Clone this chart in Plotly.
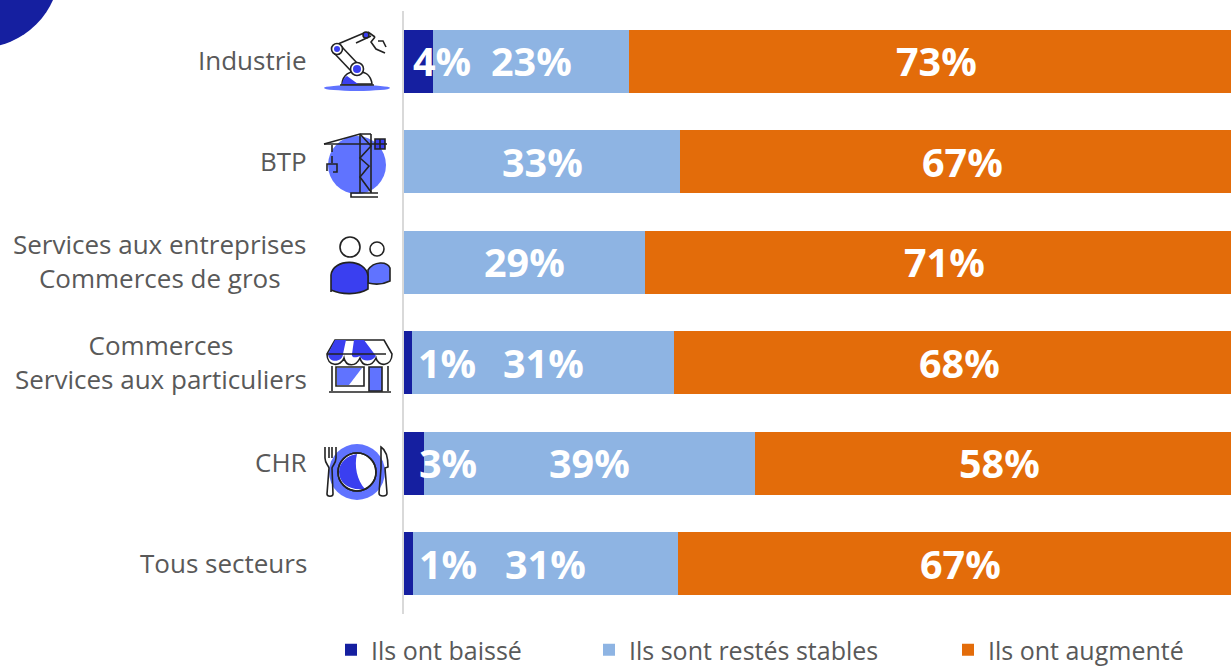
import plotly.graph_objects as go

categories = ["Industrie", "BTP", "Services aux entreprises<br>Commerces de gros",
              "Commerces<br>Services aux particuliers", "CHR", "Tous secteurs"]
baisse = [3.5, 0, 0, 0.9, 2.4, 1.1]
stable = [23.3, 32.9, 28.7, 31.3, 39.4, 31.5]
hausse = [73.2, 67.1, 71.3, 67.8, 58.2, 67.4]
baisse_labels = ["4%", "", "", "1%", "3%", "1%"]
stable_labels = ["23%", "33%", "29%", "31%", "39%", "31%"]
hausse_labels = ["73%", "67%", "71%", "68%", "58%", "67%"]
series_names = ["Ils ont baissé", "Ils sont restés stables", "Ils ont augmenté"]

W, H = 1231, 666
L, T, B = 404, 11, 614
AXIS_FULL = 840.0
C_DARK, C_LIGHT, C_ORANGE = "#151FA0", "#8EB4E3", "#E36C0A"
BLUE, BLUE2, INK = "#3A3FF0", "#6073FF", "#222222"
TXT = "#595959"
LABEL_FONT = "Open Sans"

def px(x): return (x - L) / (W - L)
def py(y): return 1 - (y - T) / (B - T)

def path(d, fill=None, line=INK, width=1.6):
    out, toks = [], d.replace(",", " ").split()
    i = 0
    while i < len(toks):
        t = toks[i]
        if t.isalpha():
            out.append(t); i += 1
        else:
            out.append(f"{px(float(t)):.5f},{py(float(toks[i+1])):.5f}"); i += 2
    return dict(type="path", xref="paper", yref="paper", path=" ".join(out),
                fillcolor=fill or "rgba(0,0,0,0)",
                line=dict(color=line if line else "rgba(0,0,0,0)", width=width if line else 0), layer="above")

def circ(cx, cy, r, fill=None, line=INK, width=1.6, ry=None):
    ry = ry or r
    return dict(type="circle", xref="paper", yref="paper", x0=px(cx-r), x1=px(cx+r), y0=py(cy+ry), y1=py(cy-ry),
                fillcolor=fill or "rgba(0,0,0,0)",
                line=dict(color=line if line else "rgba(0,0,0,0)", width=width if line else 0), layer="above")

shapes = [
    # corner disc
    circ(-20, -32, 79.7, fill=C_DARK, line=None),
    # robot
    circ(357, 88, 33, fill=BLUE2, line=None, ry=3),
    path("M 342 84 C 343 74 350 71 357 72 C 366 71 371 76 372 84 Z", fill="#FFFFFF"),
    path("M 342 84 C 343 79 345 77 347 76 L 358 84 Z", fill=BLUE, line=None),
    path("M 340 85 L 374 85"),
    path("M 334 53 L 352 72"), path("M 341 46 L 358 64"),
    path("M 338 44 L 364 33"), path("M 356 43 L 371 36"),
    path("M 368 32 L 375 37"), path("M 375 37 L 371 42 L 376 49 L 385 53"), path("M 378 41 L 383 41 L 386 47"),
    circ(357, 69, 6.5, fill="#FFFFFF"), circ(357, 69, 4, fill=BLUE, line=None),
    circ(337, 49, 5.5, fill="#FFFFFF"), circ(337, 49, 3, fill=BLUE, line=None),
    circ(366, 35, 3, fill=BLUE),
    # crane
    circ(357, 165, 29, fill=BLUE2, line=None),
    path("M 324 144 L 387 144"), path("M 324 144 L 360 134 L 371 134"),
    path("M 360 134 L 360 193"), path("M 371 134 L 371 193"),
    path("M 360 134 L 371 146 L 360 158 L 369 166 L 360 177 L 371 192"),
    path("M 332 145 L 332 152"), path("M 332 156 L 332 163"),
    path("M 327 171 L 327 164 L 337 164 L 337 172 L 333 172"),
    path("M 375 139 L 385 139 L 385 149 L 375 149 Z M 380 139 L 380 149 M 375 144 L 385 144", fill=BLUE),
    path("M 378 193 L 351 193 L 351 197 L 378 197"),
    # people
    circ(350, 247, 10), circ(377, 249, 7),
    path("M 368 270 C 374 261 387 261 390 268 L 390 281 C 384 284 376 285 368 283 Z", fill=BLUE2),
    path("M 331 292 L 331 275 C 333 258 366 258 368 276 L 368 289 C 358 295 342 295 331 290 Z", fill=BLUE),
    # shop
    path("M 335 340 L 384 340 L 392 354 C 392 367 378 367 376 358 C 372 367 362 367 360 358 C 356 367 346 367 344 358 C 341 367 327 367 327 354 Z", fill="#FFFFFF"),
    path("M 335 340 L 346 340 L 343 354 C 343 362 329 364 328 354 Z", fill=BLUE, line=None),
    path("M 354 340 L 364 340 L 376 356 C 372 362 362 362 360 356 C 356 358 351 358 352 354 Z", fill=BLUE, line=None),
    path("M 327 354 L 386 354"),
    path("M 332 366 L 332 391"), path("M 388 366 L 388 391"), path("M 329 392 L 391 392"),
    path("M 336 367 L 364 367 L 364 386 L 336 386 Z", fill="#FFFFFF"),
    path("M 337 368 L 362 368 L 349 385 L 337 385 Z", fill=BLUE2, line=None),
    path("M 369 367 L 382 367 L 382 391 L 369 391 Z", fill=BLUE2),
    # plate
    circ(357, 472, 28, fill=BLUE2, line=None),
    circ(357, 472, 19, fill="#FFFFFF"),
    path("M 357 454 C 348 455 339 462 339 472 C 339 482 348 491 365 489 C 357 480 354 466 357 454 Z", fill=BLUE, line=None),
    circ(357, 472, 19),
    path("M 325 447 L 325 458 C 325 463 328 465 329 468 L 327 494 C 327 497 333 497 333 494 L 332 468 C 333 465 336 463 336 458 L 336 447"),
    path("M 329 447 L 329 458"), path("M 332 447 L 332 458"),
    path("M 381 447 C 386 450 388 458 388 467 L 385 468 L 387 493 C 387 497 379 497 379 493 L 381 468 Z"),
]

fig = go.Figure()
for name, vals, col, leg in zip(series_names, (baisse, stable, hausse), (C_DARK, C_LIGHT, C_ORANGE), ("legend", "legend2", "legend3")):
    fig.add_bar(y=categories, x=vals, name=name, orientation="h", marker=dict(color=col, line=dict(width=0)),
                legend=leg, showlegend=True, hoverinfo="name+x")

ann = []
shift = {0: 23, 3: 39, 4: 34, 5: 39}
for i, cat in enumerate(categories):
    b, s, h = baisse[i], stable[i], hausse[i]
    if baisse_labels[i]:
        ann.append(dict(x=b/2, y=cat, text=baisse_labels[i], xshift=shift[i]))
    ann.append(dict(x=b+s/2, y=cat, text=stable_labels[i]))
    ann.append(dict(x=b+s+h/2, y=cat, text=hausse_labels[i]))
for a in ann:
    a.update(xref="x", yref="y", showarrow=False, font=dict(family=LABEL_FONT, size=39.5, color="#FFFFFF", weight=700))

cat_right = (309 - L) / (W - L)
for cat in categories:
    ann.append(dict(x=cat_right, xref="paper", y=cat, yref="y", text=cat, xanchor="right", align="center", yshift=1,
                    showarrow=False, font=dict(family=LABEL_FONT, size=26, color=TXT)))

def legend_at(x):
    return dict(xref="container", yref="container", x=x / W, xanchor="left", y=1 - 650 / H, yanchor="middle",
                orientation="h", bgcolor="rgba(0,0,0,0)",
                font=dict(family=LABEL_FONT, size=25, color=TXT), itemwidth=30, tracegroupgap=0)

fig.update_layout(
    width=W, height=H, autosize=False, barmode="stack", bargap=0.375,
    margin=dict(l=L, r=0, t=T, b=H - B, pad=0), paper_bgcolor="#FFFFFF", plot_bgcolor="#FFFFFF",
    xaxis=dict(range=[0, (W - L) / AXIS_FULL * 100], visible=False, showgrid=False, zeroline=False, fixedrange=True),
    yaxis=dict(autorange="reversed", type="category", showticklabels=False, ticks="", showgrid=False, zeroline=False,
               showline=True, linecolor="#D9D9D9", linewidth=2, fixedrange=True),
    shapes=shapes, annotations=ann,
    legend=legend_at(331), legend2=legend_at(589), legend3=legend_at(948),
)
fig.write_html("out.html", config=dict(displayModeBar=False),
               post_script="document.body.style.margin='0';document.body.style.overflow='hidden';")
